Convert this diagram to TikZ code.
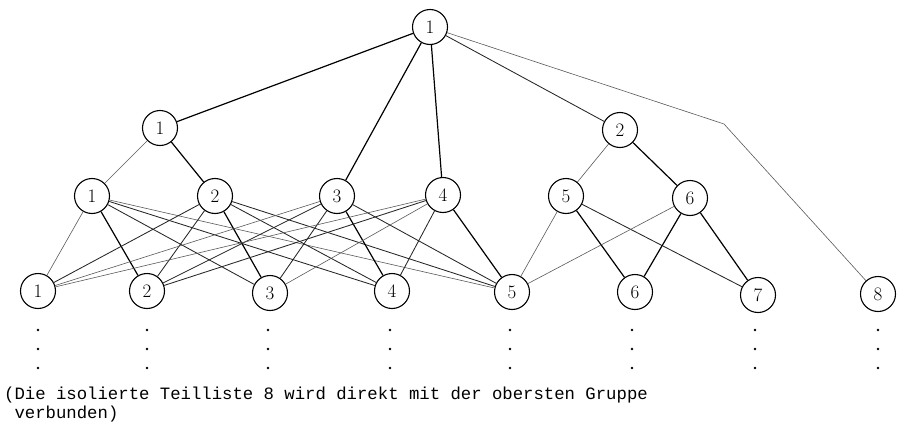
\documentclass[tikz,border=0pt]{standalone}
\usepackage{fontspec}
\newfontfamily\typewriter{Liberation Mono}
\begin{document}
\begin{tikzpicture}[x=1pt,y=-1pt,
  vertex/.style={circle,draw,line width=1.1pt,minimum size=35pt,inner sep=0pt,
    font=\fontsize{19}{19}\selectfont},
  strong/.style={line width=1.2pt},
  medium/.style={line width=0.85pt,black!85},
  weak/.style={line width=0.6pt,black!65},
  dotmark/.style={fill=black}]
\useasboundingbox (0,0) rectangle (897,423);

% top group
\node[vertex] (t1) at (430,27) {1};
% second level
\node[vertex] (a1) at (160,128) {1};
\node[vertex] (a2) at (620,130) {2};
% third level
\node[vertex] (b1) at (92,196) {1};
\node[vertex] (b2) at (215,196) {2};
\node[vertex] (b3) at (337,196) {3};
\node[vertex] (b4) at (443,195) {4};
\node[vertex] (b5) at (566,196) {5};
\node[vertex] (b6) at (690,198) {6};
% partial lists
\node[vertex] (c1) at (38,291) {1};
\node[vertex] (c2) at (147,291) {2};
\node[vertex] (c3) at (270,293) {3};
\node[vertex] (c4) at (392,291) {4};
\node[vertex] (c5) at (512,292) {5};
\node[vertex] (c6) at (635,292) {6};
\node[vertex] (c7) at (758,295) {7};
\node[vertex] (c8) at (878,294) {8};
\coordinate (bend) at (724,124);

% links from the top group
\draw[strong] (t1) -- (a1);
\draw[strong] (t1) -- (b3);
\draw[strong] (t1) -- (b4);
\draw[medium] (t1) -- (a2);
\draw[weak] (t1) -- (bend) -- (c8);

% second level to third level
\draw[weak] (a1) -- (b1);
\draw[strong] (a1) -- (b2);
\draw[weak] (a2) -- (b5);
\draw[strong] (a2) -- (b6);

% groups 1-4 to lists 1-5
\draw[weak] (b1) -- (c1);
\draw[strong] (b1) -- (c2);
\draw[medium] (b1) -- (c3);
\draw[medium] (b1) -- (c4);
\draw[weak] (b1) -- (c5);
\draw[medium] (b2) -- (c1);
\draw[medium] (b2) -- (c2);
\draw[strong] (b2) -- (c3);
\draw[medium] (b2) -- (c4);
\draw[medium] (b2) -- (c5);
\draw[weak] (b3) -- (c1);
\draw[medium] (b3) -- (c2);
\draw[medium] (b3) -- (c3);
\draw[strong] (b3) -- (c4);
\draw[medium] (b3) -- (c5);
\draw[weak] (b4) -- (c1);
\draw[medium] (b4) -- (c2);
\draw[weak] (b4) -- (c3);
\draw[medium] (b4) -- (c4);
\draw[strong] (b4) -- (c5);

% groups 5-6 to lists 5-7
\draw[weak] (b5) -- (c5);
\draw[strong] (b5) -- (c6);
\draw[medium] (b5) -- (c7);
\draw[weak] (b6) -- (c5);
\draw[strong] (b6) -- (c6);
\draw[strong] (b6) -- (c7);

% continuation dots below each list
\foreach \x in {38,147,268,390,510,632,755,878}
  \foreach \y in {330,349,368}
    \fill[dotmark] (\x,\y) circle (1.4pt);

% caption (the base anchor sits on the last line)
\node[anchor=base west,inner sep=0pt,align=left,
      font=\typewriter\fontsize{17.3}{19}\selectfont] (note) at (4,418)
  {(Die isolierte Teilliste 8 wird direkt mit der obersten Gruppe\\
   \phantom{(}verbunden)};
\end{tikzpicture}
\end{document}
